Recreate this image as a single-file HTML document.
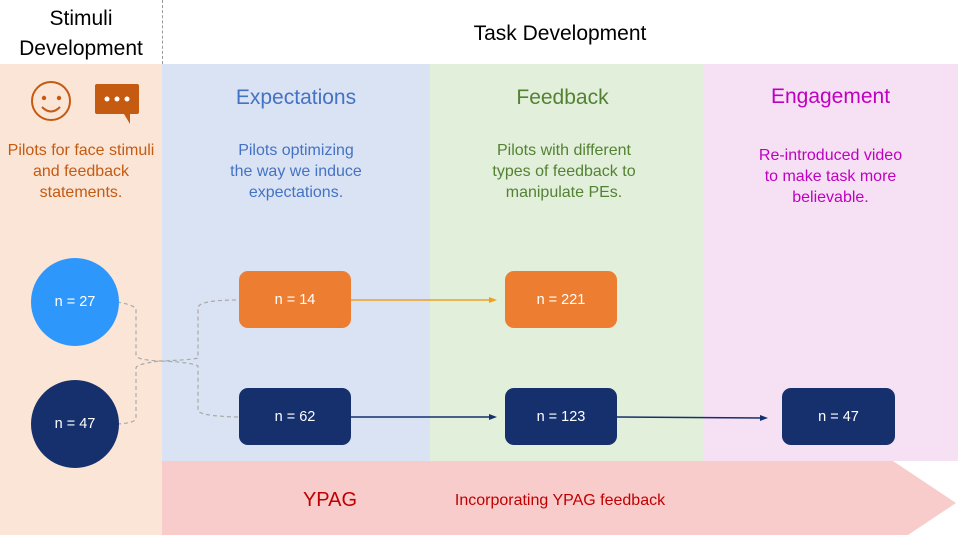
<!DOCTYPE html>
<html><head><meta charset="utf-8"><style>
body{margin:0;width:958px;height:535px;overflow:hidden;background:#fff;font-family:"Liberation Sans",sans-serif;position:relative}
.a{position:absolute}
.t{position:absolute;text-align:center;line-height:21px;font-size:16px}
.box{position:absolute;border-radius:9px;color:#fff;font-size:14.5px;display:flex;align-items:center;justify-content:center}
</style></head><body>
<div class="a" style="left:0;top:64px;width:162px;height:471px;background:#fbe5d7"></div>
<div class="a" style="left:162px;top:64px;width:268px;height:397px;background:#dae3f3"></div>
<div class="a" style="left:430px;top:64px;width:273px;height:397px;background:#e2efda"></div>
<div class="a" style="left:703px;top:64px;width:255px;height:397px;background:#f6e0f4"></div>
<div class="a" style="left:162px;top:0;height:64px;border-left:1px dashed #999"></div>
<svg class="a" style="left:0;top:0" width="958" height="535">
<polygon points="162,461 893,461 956,503 893,545 162,545" fill="#f9cccc"/>
<g fill="none" stroke="#aaa" stroke-width="1.2" stroke-dasharray="4,3">
<path d="M117,302 Q136,305 136,310 L136,355 Q136,360 160,361 Q190,360 198,358 L198,308 Q198,300 238,300"/>
<path d="M117,424 Q136,423 136,418 L136,368 Q136,364 160,361 Q190,362 198,366 L198,410 Q198,416 238,417"/>
</g>
<line x1="351" y1="300" x2="494" y2="300" stroke="#f0a020" stroke-width="1.5"/>
<polygon points="497,300 489,297 489,303" fill="#f0a020"/>
<line x1="351" y1="417" x2="494" y2="417" stroke="#15306d" stroke-width="1.5"/>
<polygon points="497,417 489,414 489,420" fill="#15306d"/>
<line x1="617" y1="417" x2="765" y2="418" stroke="#15306d" stroke-width="1.5"/>
<polygon points="768,418 760,415 760,421" fill="#15306d"/>
<circle cx="51" cy="101" r="19" fill="none" stroke="#c55a11" stroke-width="2"/>
<circle cx="44" cy="98" r="2.2" fill="#c55a11"/><circle cx="59" cy="98" r="2.2" fill="#c55a11"/>
<path d="M42,107 Q51,116 60,107" fill="none" stroke="#c55a11" stroke-width="2"/>
<path d="M97,84 H137 Q139,84 139,86 V112 Q139,114 137,114 H130 V124 L124,114 H97 Q95,114 95,112 V86 Q95,84 97,84Z" fill="#c55a11"/>
<circle cx="107" cy="99" r="2.5" fill="#fff"/><circle cx="117" cy="99" r="2.5" fill="#fff"/><circle cx="127" cy="99" r="2.5" fill="#fff"/>
<circle cx="75" cy="302" r="44" fill="#2e97fc"/>
<circle cx="75" cy="424" r="44" fill="#15306d"/>
</svg>
<div class="t" style="left:0;top:4px;width:162px;font-size:21px;line-height:30px">Stimuli<br>Development</div>
<div class="t" style="left:162px;top:23px;width:796px;font-size:21px">Task Development</div>
<div class="t" style="left:0;top:140px;width:162px;color:#c55a11">Pilots for face stimuli<br>and feedback<br>statements.</div>
<div class="t" style="left:162px;top:87px;width:268px;font-size:21px;color:#4472c4">Expectations</div>
<div class="t" style="left:430px;top:87px;width:265px;font-size:21px;color:#548235">Feedback</div>
<div class="t" style="left:703px;top:86px;width:255px;font-size:21px;color:#c000c0">Engagement</div>
<div class="t" style="left:162px;top:140px;width:268px;color:#4472c4">Pilots optimizing<br>the way we induce<br>expectations.</div>
<div class="t" style="left:430px;top:140px;width:268px;color:#548235">Pilots with different<br>types of feedback to<br>manipulate PEs.</div>
<div class="t" style="left:703px;top:145px;width:255px;color:#c000c0">Re-introduced video<br>to make task more<br>believable.</div>
<div class="t" style="left:31px;top:292px;width:88px;color:#fff;font-size:14.5px">n = 27</div>
<div class="t" style="left:31px;top:414px;width:88px;color:#fff;font-size:14.5px">n = 47</div>
<div class="box" style="left:239px;top:271px;width:112px;height:57px;background:#ed7d31">n = 14</div>
<div class="box" style="left:239px;top:388px;width:112px;height:57px;background:#15306d">n = 62</div>
<div class="box" style="left:505px;top:271px;width:112px;height:57px;background:#ed7d31">n = 221</div>
<div class="box" style="left:505px;top:388px;width:112px;height:57px;background:#15306d">n = 123</div>
<div class="box" style="left:782px;top:388px;width:113px;height:57px;background:#15306d">n = 47</div>
<div class="t" style="left:280px;top:490px;width:100px;font-size:20px;color:#c00000">YPAG</div>
<div class="t" style="left:430px;top:490px;width:260px;color:#c00000">Incorporating YPAG feedback</div>
</body></html>
